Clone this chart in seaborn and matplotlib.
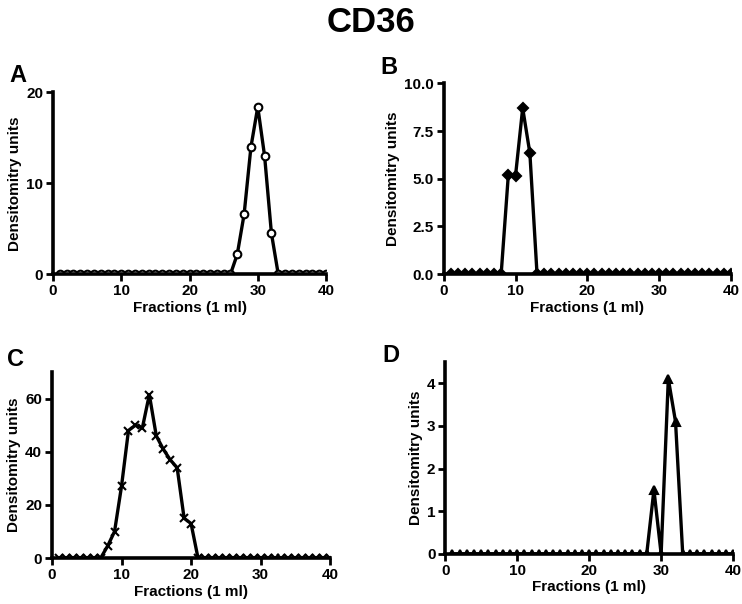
import matplotlib
matplotlib.use("Agg")
import matplotlib.pyplot as plt
import seaborn as sns

fractions = list(range(1, 41))

# densitometry per fraction
vals_a = [0, 0, 0, 0, 0, 0, 0, 0, 0, 0, 0, 0, 0, 0, 0, 0, 0, 0, 0, 0,
          0, 0, 0, 0, 0, 0, 2.2, 6.6, 14.0, 18.4, 13.0, 4.5, 0, 0, 0, 0, 0, 0, 0, 0]
vals_b = [0, 0, 0, 0, 0, 0, 0, 0, 5.2, 5.15, 8.7, 6.35, 0, 0, 0, 0, 0, 0, 0, 0,
          0, 0, 0, 0, 0, 0, 0, 0, 0, 0, 0, 0, 0, 0, 0, 0, 0, 0, 0, 0]
vals_c = [0, 0, 0, 0, 0, 0, 0, 4.5, 10, 27, 48, 50, 49, 61.5, 46, 41, 37, 34, 15, 13,
          0, 0, 0, 0, 0, 0, 0, 0, 0, 0, 0, 0, 0, 0, 0, 0, 0, 0, 0, 0]
vals_d = [0, 0, 0, 0, 0, 0, 0, 0, 0, 0, 0, 0, 0, 0, 0, 0, 0, 0, 0, 0,
          0, 0, 0, 0, 0, 0, 0, 0, 1.5, 0, 4.1, 3.1, 0, 0, 0, 0, 0, 0, 0, 0]

panels = [
    ("A", vals_a, "o", (0, 20), [0, 10, 20], "{:.0f}", [0.0714, 0.546, 0.368, 0.301], (0.013, 0.875)),
    ("B", vals_b, "D", (0, 10), [0, 2.5, 5.0, 7.5, 10.0], "{:.1f}", [0.598, 0.546, 0.387, 0.316], (0.512, 0.888)),
    ("C", vals_c, "x", (0, 70), [0, 20, 40, 60], "{:.0f}", [0.070, 0.076, 0.375, 0.308], (0.010, 0.405)),
    ("D", vals_d, "^", (0, 4.5), [0, 1, 2, 3, 4], "{:.0f}", [0.600, 0.083, 0.388, 0.318], (0.516, 0.412)),
]

sns.set_style("ticks")
plt.rcParams["font.family"] = ["Liberation Sans", "DejaVu Sans"]
plt.rcParams["font.weight"] = "bold"
for k in ["text.color", "axes.labelcolor", "xtick.color", "ytick.color", "axes.edgecolor"]:
    plt.rcParams[k] = "black"

fig = plt.figure(figsize=(7.42, 6.04), dpi=100)
fig.text(0.5, 0.962, "CD36", ha="center", va="center", fontsize=25, fontweight="bold")

for letter, vals, mk, ylim, yticks, fmt, rect, lpos in panels:
    ax = fig.add_axes(rect)
    filled = mk != "o"
    sns.lineplot(x=fractions, y=vals, ax=ax, color="black", linewidth=2.4,
                 marker=mk, markersize=5.5 if mk != "D" else 5,
                 markerfacecolor="black" if filled else "white",
                 markeredgecolor="black", markeredgewidth=1.5)
    ax.set_xlim(0, 40)
    ax.set_ylim(*ylim)
    ax.set_xticks([0, 10, 20, 30, 40])
    ax.set_yticks(yticks)
    ax.set_yticklabels([fmt.format(t) for t in yticks])
    sns.despine(ax=ax)
    for s in ["left", "bottom"]:
        ax.spines[s].set_linewidth(2.6)
        ax.spines[s].set_zorder(5)
    ax.tick_params(width=2, length=5, labelsize=11, pad=2)
    for t in ax.get_xticklabels() + ax.get_yticklabels():
        t.set_fontweight("bold")
    ax.set_xlabel("Fractions (1 ml)", fontsize=11, fontweight="bold", labelpad=2)
    ax.set_ylabel("Densitomitry units", fontsize=11, fontweight="bold", labelpad=3)
    fig.text(lpos[0], lpos[1], letter, fontsize=17, fontweight="bold", va="center")

fig.savefig("out.png", dpi=100)
